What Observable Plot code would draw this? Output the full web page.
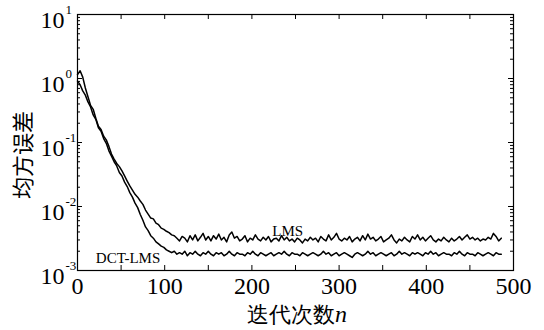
<!DOCTYPE html>
<html>
<head>
<meta charset="utf-8">
<script src="https://cdn.jsdelivr.net/npm/d3@7"></script>
<script src="https://cdn.jsdelivr.net/npm/@observablehq/plot@0.6"></script>
<style>
  body { margin: 0; background: #fff; font-family: "Liberation Serif", serif; }
  #chart svg { display: block; }
  #chart svg text { font-family: "Liberation Serif", serif; }
  #chart svg text.cjk { font-family: "Noto Sans CJK SC", sans-serif; }
</style>
</head>
<body>
<div id="chart"></div>
<script>
// Sample spacing (iterations between successive readings)
const sampleStep = 3;

// LMS mean-square error, read every 3 iterations (n = 0 … 486)
const lmsMse = [
  1.15, 1.32, 1.05, 0.71, 0.52, 0.38, 0.33, 0.24, 0.18, 0.16,
  0.125, 0.11, 0.087, 0.066, 0.055, 0.047, 0.042, 0.036, 0.030, 0.025,
  0.021, 0.018, 0.0155, 0.0140, 0.0122, 0.0108, 0.0088, 0.0076, 0.0066, 0.0064,
  0.0055, 0.0052, 0.0046, 0.0044, 0.0041, 0.0039, 0.0036, 0.0035, 0.0032, 0.0029,
  0.0034,
  3.2e-3, 2.8e-3, 3.5e-3, 3.0e-3, 3.6e-3, 2.9e-3, 3.3e-3, 3.8e-3, 3.0e-3, 3.4e-3,
  2.9e-3, 3.5e-3, 3.1e-3, 3.7e-3, 3.0e-3, 3.3e-3, 2.8e-3, 3.6e-3, 4.0e-3, 3.2e-3,
  3.4e-3, 2.9e-3, 3.1e-3, 3.5e-3, 2.8e-3, 3.2e-3, 3.0e-3, 3.6e-3, 3.1e-3, 2.9e-3,
  3.3e-3, 3.0e-3, 3.4e-3, 2.8e-3, 3.1e-3, 3.2e-3, 2.9e-3, 3.5e-3, 3.0e-3, 3.3e-3,
  2.9e-3, 3.1e-3, 2.8e-3, 3.2e-3, 3.0e-3, 2.7e-3, 3.1e-3, 2.9e-3, 3.3e-3, 3.0e-3,
  3.2e-3, 2.8e-3, 3.4e-3, 3.1e-3, 2.9e-3, 3.6e-3, 3.0e-3, 3.3e-3, 3.8e-3, 3.1e-3,
  2.9e-3, 3.2e-3, 3.0e-3, 3.4e-3, 2.8e-3, 3.1e-3, 3.3e-3, 2.9e-3, 3.5e-3, 3.0e-3,
  3.7e-3, 3.1e-3, 3.3e-3, 2.9e-3, 3.1e-3, 3.4e-3, 2.8e-3, 3.0e-3, 3.2e-3, 3.6e-3,
  3.0e-3, 2.7e-3, 3.1e-3, 2.9e-3, 3.3e-3, 3.0e-3, 2.8e-3, 3.4e-3, 3.1e-3, 3.6e-3,
  3.0e-3, 3.3e-3, 2.9e-3, 3.2e-3, 3.5e-3, 3.0e-3, 2.8e-3, 3.1e-3, 2.9e-3, 3.3e-3,
  3.0e-3, 2.8e-3, 3.2e-3, 2.9e-3, 3.1e-3, 3.4e-3, 3.0e-3, 3.3e-3, 3.6e-3, 3.1e-3,
  3.3e-3, 3.0e-3, 3.2e-3, 2.9e-3, 3.1e-3, 3.0e-3, 3.3e-3, 3.1e-3, 3.8e-3, 3.4e-3,
  2.9e-3, 3.2e-3
];

// DCT-LMS mean-square error, read every 3 iterations (n = 0 … 486)
const dctLmsMse = [
  0.91, 0.80, 0.64, 0.55, 0.43, 0.36, 0.27, 0.23, 0.17, 0.15,
  0.115, 0.097, 0.074, 0.061, 0.050, 0.043, 0.034, 0.030, 0.024, 0.0205,
  0.0165, 0.014, 0.0113, 0.0096, 0.0075, 0.0061, 0.0048, 0.0042, 0.0035, 0.0032,
  0.0028, 0.0026, 0.0024, 0.0023, 0.0021, 0.0020, 0.0019, 0.0020, 0.0018,
  1.9e-3, 1.8e-3, 2.0e-3, 1.7e-3, 1.9e-3, 1.8e-3, 2.0e-3, 1.8e-3, 1.7e-3, 1.9e-3,
  1.8e-3, 2.0e-3, 1.8e-3, 1.7e-3, 1.9e-3, 1.8e-3, 1.9e-3, 1.7e-3, 1.8e-3, 2.0e-3,
  1.8e-3, 1.7e-3, 1.9e-3, 1.8e-3, 1.8e-3, 1.7e-3, 1.9e-3, 1.8e-3, 2.0e-3, 1.8e-3,
  1.7e-3, 1.9e-3, 1.8e-3, 1.7e-3, 1.8e-3, 1.9e-3, 1.7e-3, 1.8e-3, 1.9e-3, 1.8e-3,
  2.0e-3, 1.8e-3, 1.7e-3, 1.9e-3, 1.8e-3, 1.8e-3, 1.7e-3, 1.9e-3, 1.8e-3, 1.7e-3,
  1.8e-3, 1.9e-3, 1.8e-3, 1.7e-3, 1.8e-3, 2.0e-3, 1.8e-3, 1.9e-3, 1.7e-3, 1.8e-3,
  1.9e-3, 1.7e-3, 1.8e-3, 1.9e-3, 1.8e-3, 1.7e-3, 1.6e-3, 1.8e-3, 1.9e-3, 1.8e-3,
  1.7e-3, 1.8e-3, 2.0e-3, 1.8e-3, 1.9e-3, 1.7e-3, 1.8e-3, 1.9e-3, 1.8e-3, 1.7e-3,
  1.8e-3, 1.9e-3, 1.7e-3, 1.8e-3, 2.0e-3, 1.8e-3, 1.9e-3, 1.8e-3, 1.7e-3, 1.9e-3,
  1.8e-3, 1.9e-3, 1.8e-3, 1.7e-3, 1.9e-3, 1.8e-3, 2.0e-3, 1.8e-3, 1.9e-3, 1.7e-3,
  1.8e-3, 1.9e-3, 1.8e-3, 1.8e-3, 1.7e-3, 1.9e-3, 1.8e-3, 2.0e-3, 1.8e-3, 1.7e-3,
  1.9e-3, 1.8e-3, 1.8e-3, 1.7e-3, 1.9e-3, 1.8e-3, 1.7e-3, 1.8e-3, 1.9e-3, 1.8e-3,
  1.7e-3, 1.9e-3, 1.8e-3, 1.8e-3
];

// Axis ticks and labels
const xTicks = [0, 50, 100, 150, 200, 250, 300, 350, 400, 450, 500];
const xTickLabels = [0, 100, 200, 300, 400, 500];
const yDecades = [1e-3, 1e-2, 1e-1, 1, 10];
const yExponents = ["-3", "-2", "-1", "0", "1"];
const minorMultipliers = [2, 3, 4, 5, 6, 7, 8, 9];

// Series annotations (iteration, MSE where each label sits)
const seriesLabels = [
  {name: "LMS", n: 241, mse: 3.5e-3},
  {name: "DCT-LMS", n: 58, mse: 1.3e-3}
];

const xTitle = "迭代次数";
const xTitleVar = "n";
const yTitle = "均方误差";

// ---- build tables ----
const lmsData = lmsMse.map((v, i) => ({n: i * sampleStep, mse: v}));
const dctData = dctLmsMse.map((v, i) => ({n: i * sampleStep, mse: v}));
const yMinor = yDecades.slice(0, -1).flatMap(d => minorMultipliers.map(k => d * k));

const serif = "Liberation Serif";
const W = 544, H = 330;
const mL = 77, mR = 31, mT = 14, mB = 60;
const plotW = W - mL - mR, plotH = H - mT - mB;
const majorLen = 5, minorLen = 3;

const chart = Plot.plot({
  width: W,
  height: H,
  marginLeft: mL,
  marginRight: mR,
  marginTop: mT,
  marginBottom: mB,
  style: {fontFamily: serif, background: "#fff", color: "#000"},
  x: {domain: [0, 500], axis: null},
  y: {type: "log", domain: [1e-3, 10], axis: null},
  marks: [
    // inward ticks: bottom & top
    Plot.ruleX(xTicks, {x: d => d, insetTop: plotH - majorLen, stroke: "#000", strokeWidth: 1}),
    Plot.ruleX(xTicks, {x: d => d, insetBottom: plotH - majorLen, stroke: "#000", strokeWidth: 1}),
    // inward ticks: left & right (major + minor)
    Plot.ruleY(yDecades, {y: d => d, insetRight: plotW - majorLen, stroke: "#000", strokeWidth: 1}),
    Plot.ruleY(yDecades, {y: d => d, insetLeft: plotW - majorLen, stroke: "#000", strokeWidth: 1}),
    Plot.ruleY(yMinor, {y: d => d, insetRight: plotW - minorLen, stroke: "#000", strokeWidth: 1}),
    Plot.ruleY(yMinor, {y: d => d, insetLeft: plotW - minorLen, stroke: "#000", strokeWidth: 1}),
    // curves
    Plot.line(lmsData, {x: "n", y: "mse", stroke: "#000", strokeWidth: 1.5}),
    Plot.line(dctData, {x: "n", y: "mse", stroke: "#000", strokeWidth: 1.5}),
    // series labels
    Plot.text(seriesLabels, {x: "n", y: "mse", text: "name", fontFamily: serif, fontSize: 15, lineAnchor: "bottom", fill: "#000"}),
    // x tick labels
    Plot.text(xTickLabels, {x: d => d, frameAnchor: "bottom", dy: 16, text: d => String(d), fontFamily: serif, fontSize: 24, lineAnchor: "middle", fill: "#000"}),
    // y tick labels: base and exponent
    Plot.text(yDecades, {y: d => d, frameAnchor: "left", dx: -13, dy: 6, text: () => "10", textAnchor: "end", fontFamily: serif, fontSize: 24, lineAnchor: "middle", fill: "#000"}),
    Plot.text(yDecades, {y: d => d, frameAnchor: "left", dx: -12, dy: -5, text: (d, i) => yExponents[i], textAnchor: "start", fontFamily: serif, fontSize: 13, lineAnchor: "middle", fill: "#000"}),
    Plot.frame({stroke: "#000", strokeWidth: 1.2})
  ]
});

document.getElementById("chart").appendChild(chart);

// axis titles (mixed font runs)
const svg = d3.select(chart);
const xt = svg.append("text")
  .attr("x", mL + plotW / 2 + 2)
  .attr("y", 322)
  .attr("text-anchor", "middle")
  .attr("fill", "#000");
xt.append("tspan")
  .attr("class", "cjk")
  .attr("font-size", 22)
  .text(xTitle);
xt.append("tspan")
  .attr("font-style", "italic")
  .attr("font-size", 24)
  .text(xTitleVar);

svg.append("text")
  .attr("class", "cjk")
  .attr("transform", `translate(31, ${mT + plotH / 2 + 13}) rotate(-90)`)
  .attr("text-anchor", "middle")
  .attr("font-size", 22)
  .attr("fill", "#000")
  .text(yTitle);
</script>
</body>
</html>
